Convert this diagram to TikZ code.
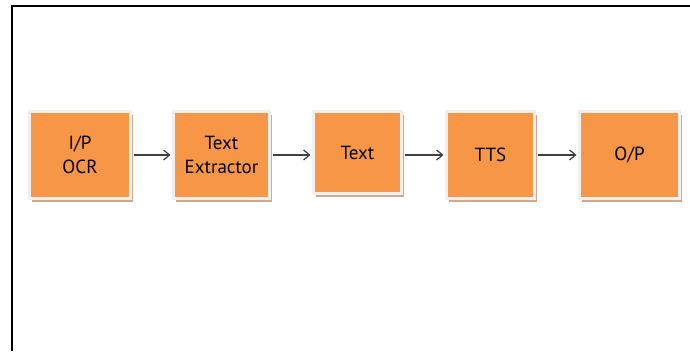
\documentclass[tikz,border=0pt]{standalone}
\usepackage{fontspec}
\setmainfont{PT Sans}
\usetikzlibrary{arrows.meta,shadows}
\definecolor{boxorange}{HTML}{F79646}
\definecolor{boxshadow}{HTML}{D2A98C}
\definecolor{boxrim}{HTML}{F0F0F0}
\definecolor{arrowgray}{HTML}{404040}
\tikzset{
  blockbox/.style={draw=boxrim, line width=3pt, fill=boxorange, inner sep=0pt,
    align=center, font=\fontsize{19}{24}\selectfont, text=black,
    drop shadow={shadow xshift=2.5pt, shadow yshift=-3pt, fill=boxshadow, opacity=1}},
  flow/.style={draw=arrowgray, line width=1.2pt, -{Straight Barb[length=6pt,width=10pt,line width=1.2pt]}},
  frameline/.style={draw=black, line width=2pt}
}
\begin{document}
\begin{tikzpicture}[x=1pt,y=1pt]
\useasboundingbox (0,0) rectangle (690,-351);
\fill[white] (0,0) rectangle (690,-351);
\coordinate (fa) at (12,-351);
\coordinate (fb) at (12,-6);
\coordinate (fc) at (690,-6);
\draw[frameline] (fa) -- (fb) -- (fc);
\node[blockbox, minimum width=101pt, minimum height=87pt] (b1) at (80,-155) {I/P\\OCR};
\node[blockbox, minimum width=96pt, minimum height=87pt] (b2) at (221.5,-155) {Text\\Extractor};
\node[blockbox, minimum width=88pt, minimum height=82pt] (b3) at (357.5,-152.5) {Text};
\node[blockbox, minimum width=88pt, minimum height=87pt] (b4) at (490.5,-155) {TTS};
\node[blockbox, minimum width=100pt, minimum height=87pt] (b5) at (629.5,-155) {O/P};
\draw[flow] ([xshift=1.5pt]b1.east) -- ([xshift=-1.5pt]b2.west);
\draw[flow] ([xshift=1.5pt]b2.east) -- ([xshift=-1.5pt]b3.west |- b2.west);
\draw[flow] ([xshift=1.5pt]b3.east |- b2.east) -- ([xshift=-1.5pt]b4.west);
\draw[flow] ([xshift=1.5pt]b4.east) -- ([xshift=-1.5pt]b5.west);
\end{tikzpicture}
\end{document}
